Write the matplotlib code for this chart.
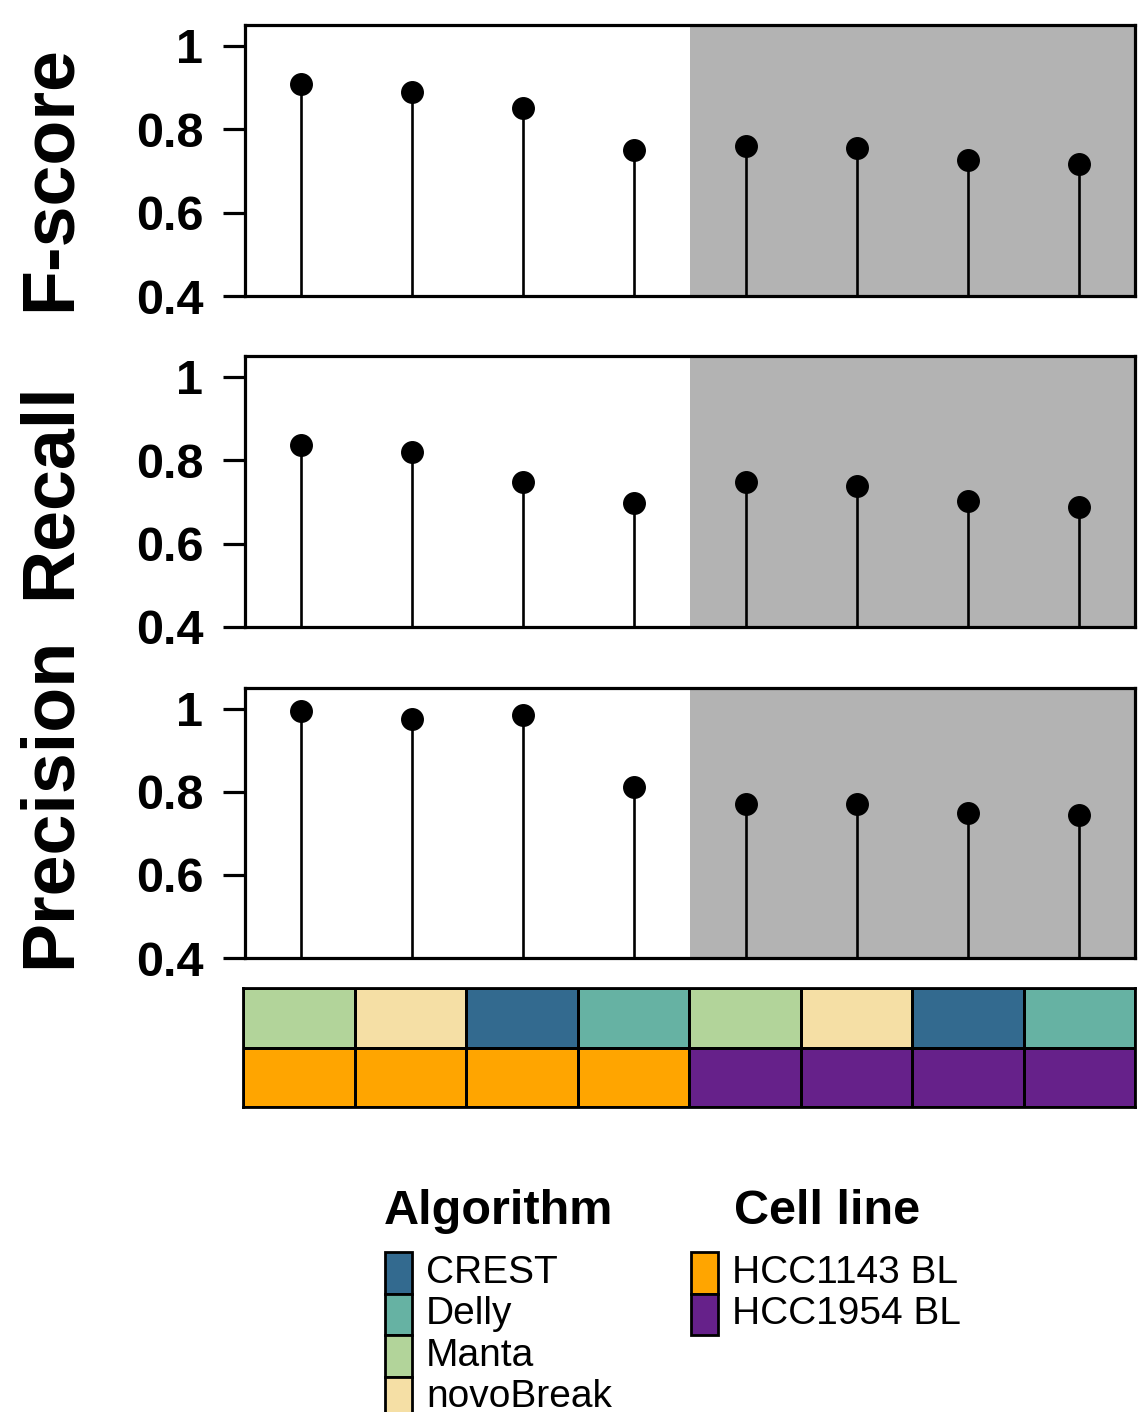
import matplotlib
matplotlib.use("Agg")
import matplotlib.pyplot as plt
from matplotlib.patches import Rectangle
from matplotlib.colors import ListedColormap
import numpy as np

plt.rcParams['font.family'] = ['Liberation Sans', 'DejaVu Sans']

# ---- data ----
algorithms = ["Manta", "novoBreak", "CREST", "Delly", "Manta", "novoBreak", "CREST", "Delly"]
cell_lines = ["HCC1143 BL"] * 4 + ["HCC1954 BL"] * 4
fscore = [0.909, 0.890, 0.851, 0.750, 0.760, 0.755, 0.726, 0.717]
recall = [0.837, 0.820, 0.748, 0.698, 0.748, 0.739, 0.703, 0.688]
precision = [0.995, 0.976, 0.986, 0.812, 0.771, 0.771, 0.749, 0.745]
metric_names = ["F-score", "Recall", "Precision"]
ytick_vals = [0.4, 0.6, 0.8, 1.0]
ytick_labels = ["0.4", "0.6", "0.8", "1"]

alg_order = ["CREST", "Delly", "Manta", "novoBreak"]
alg_colors = ["#336A8F", "#66B2A3", "#B2D49A", "#F5DFA5"]
cell_order = ["HCC1143 BL", "HCC1954 BL"]
cell_colors = ["#FFA500", "#66218A"]
shade_color = "#B3B3B3"

W, H = 1141, 1412
fig = plt.figure(figsize=(W / 100, H / 100), dpi=100)

def frac(x0, y0, x1, y1):
    return [x0 / W, 1 - y1 / H, (x1 - x0) / W, (y1 - y0) / H]

panel_px = [(25, 296), (356, 627), (688, 958)]
label_y = [178, 491, 802]
series = [fscore, recall, precision]
x = np.arange(1, len(fscore) + 1)

for (top, bot), vals, name, ly in zip(panel_px, series, metric_names, label_y):
    ax = fig.add_axes(frac(245, top, 1135, bot))
    ax.axvspan(4.5, 8.5, color=shade_color, zorder=0, lw=0)
    ax.vlines(x, 0.4, vals, color="black", lw=1.9, zorder=2)
    ax.plot(x, vals, "o", color="black", ms=15.5, zorder=3)
    ax.set_xlim(0.5, 8.5)
    ax.set_ylim(0.4, 1.05)
    ax.set_xticks([])
    ax.set_yticks(ytick_vals)
    ax.set_yticklabels(ytick_labels, fontsize=35, fontweight="bold")
    ax.tick_params(axis="y", direction="out", length=16, width=2.3, pad=14)
    for s in ax.spines.values():
        s.set_linewidth(2.3)
    fig.text(50 / W, 1 - ly / H, name, rotation=90, ha="center", va="center",
             fontsize=53, fontweight="bold")

# ---- annotation heatmap ----
hax = fig.add_axes(frac(243, 988, 1135, 1107))
alg_idx = [alg_order.index(a) for a in algorithms]
cell_idx = [len(alg_order) + cell_order.index(c) for c in cell_lines]
grid = np.array([alg_idx, cell_idx])
cmap = ListedColormap(alg_colors + cell_colors)
hax.pcolormesh(np.arange(len(algorithms) + 1), np.arange(3), grid, cmap=cmap,
               vmin=-0.5, vmax=len(alg_colors) + len(cell_colors) - 0.5,
               edgecolors="black", linewidth=2.0)
hax.set_xlim(0, len(algorithms))
hax.set_ylim(2, 0)
hax.set_xticks([])
hax.set_yticks([])
for s in hax.spines.values():
    s.set_linewidth(2.0)

# ---- legends ----
lax = fig.add_axes([0, 0, 1, 1])
lax.set_xlim(0, W)
lax.set_ylim(H, 0)
lax.axis("off")

def draw_legend(x0, title_x, title, labels, colors):
    lax.text(title_x, 1212, title, fontsize=35, fontweight="bold", ha="left", va="center")
    row_h = 41.5
    y0 = 1252
    for i, (lab, col) in enumerate(zip(labels, colors)):
        lax.add_patch(Rectangle((x0 + 1, y0 + i * row_h), 27, row_h,
                                facecolor=col, edgecolor="black", lw=2, clip_on=False))
        lax.text(x0 + 42, y0 + i * row_h + row_h / 2, lab, fontsize=28,
                 ha="left", va="center")

draw_legend(384, 384, "Algorithm", alg_order, alg_colors)
draw_legend(690, 734, "Cell line", cell_order, cell_colors)

fig.savefig("out.png", dpi=100)
